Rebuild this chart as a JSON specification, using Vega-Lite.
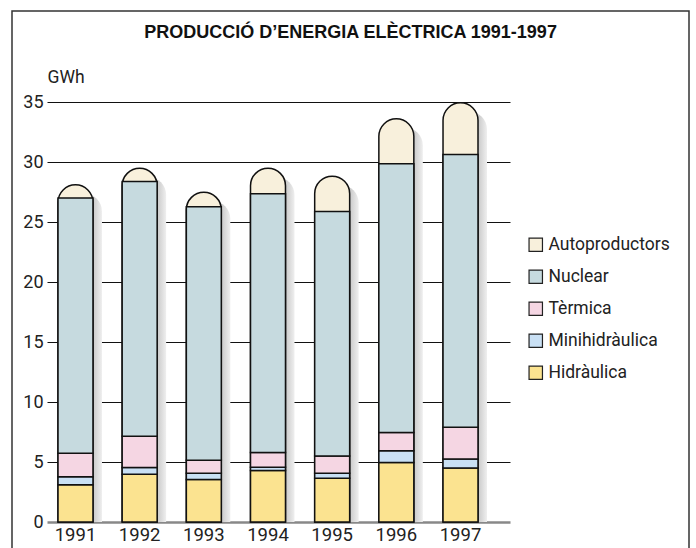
{
  "$schema": "https://vega.github.io/schema/vega-lite/v6.json",
  "width": 677,
  "height": 560,
  "padding": {"left": 12, "top": 11, "right": 7, "bottom": 0},
  "autosize": {"type": "pad"},
  "background": "white",
  "config": {"view": {"stroke": "#333", "strokeWidth": 1.5}, "font": "Liberation Sans"},
  "title": {"text": "PRODUCCIÓ D’ENERGIA ELÈCTRICA 1991-1997", "font": "Liberation Sans", "fontSize": 18, "fontWeight": "bold", "anchor": "middle", "frame": "group", "offset": -45, "baseline": "alphabetic", "color": "#111"},
  "data": {"values": [
    {"year": "1991", "type": "Hidràulica", "value": 3.10},
    {"year": "1991", "type": "Minihidràulica", "value": 0.67},
    {"year": "1991", "type": "Tèrmica", "value": 1.96},
    {"year": "1991", "type": "Nuclear", "value": 21.27},
    {"year": "1991", "type": "Autoproductors", "value": 1.10},
    {"year": "1992", "type": "Hidràulica", "value": 3.98},
    {"year": "1992", "type": "Minihidràulica", "value": 0.56},
    {"year": "1992", "type": "Tèrmica", "value": 2.61},
    {"year": "1992", "type": "Nuclear", "value": 21.22},
    {"year": "1992", "type": "Autoproductors", "value": 1.11},
    {"year": "1993", "type": "Hidràulica", "value": 3.54},
    {"year": "1993", "type": "Minihidràulica", "value": 0.53},
    {"year": "1993", "type": "Tèrmica", "value": 1.08},
    {"year": "1993", "type": "Nuclear", "value": 21.12},
    {"year": "1993", "type": "Autoproductors", "value": 1.21},
    {"year": "1994", "type": "Hidràulica", "value": 4.29},
    {"year": "1994", "type": "Minihidràulica", "value": 0.28},
    {"year": "1994", "type": "Tèrmica", "value": 1.22},
    {"year": "1994", "type": "Nuclear", "value": 21.56},
    {"year": "1994", "type": "Autoproductors", "value": 2.13},
    {"year": "1995", "type": "Hidràulica", "value": 3.65},
    {"year": "1995", "type": "Minihidràulica", "value": 0.42},
    {"year": "1995", "type": "Tèrmica", "value": 1.44},
    {"year": "1995", "type": "Nuclear", "value": 20.36},
    {"year": "1995", "type": "Autoproductors", "value": 2.95},
    {"year": "1996", "type": "Hidràulica", "value": 4.96},
    {"year": "1996", "type": "Minihidràulica", "value": 0.97},
    {"year": "1996", "type": "Tèrmica", "value": 1.53},
    {"year": "1996", "type": "Nuclear", "value": 22.39},
    {"year": "1996", "type": "Autoproductors", "value": 3.75},
    {"year": "1997", "type": "Hidràulica", "value": 4.51},
    {"year": "1997", "type": "Minihidràulica", "value": 0.75},
    {"year": "1997", "type": "Tèrmica", "value": 2.64},
    {"year": "1997", "type": "Nuclear", "value": 22.73},
    {"year": "1997", "type": "Autoproductors", "value": 4.30}
  ]},
  "transform": [
    {"joinaggregate": [{"op": "sum", "field": "value", "as": "total"}], "groupby": ["year"]},
    {"calculate": "indexof(['Hidràulica','Minihidràulica','Tèrmica','Nuclear','Autoproductors'], datum.type)", "as": "ord"}
  ],
  "encoding": {
    "x": {"field": "year", "type": "ordinal",
      "scale": {"range": [46, 466], "paddingInner": 0.455, "paddingOuter": 0},
      "axis": {"orient": "bottom", "offset": -49, "domain": false, "ticks": false, "labelFontSize": 18.5, "labelFont": "Roboto", "labelPadding": 3, "labelAngle": 0, "title": null, "labelColor": "#222"}}
  },
  "layer": [
    {
      "transform": [{"filter": "datum.type === 'Autoproductors'"}],
      "mark": {"type": "bar", "xOffset": 9, "yOffset": 9, "y2Offset": 0, "cornerRadiusTopLeft": 17.5, "cornerRadiusTopRight": 17.5,
        "color": {"gradient": "linear", "x1": 0, "x2": 1, "y1": 0, "y2": 0, "stops": [{"offset": 0, "color": "#c4c4c4"}, {"offset": 0.72, "color": "#c6c6c6"}, {"offset": 1, "color": "#efefef"}]}},
      "encoding": {
        "y": {"field": "total", "type": "quantitative",
          "scale": {"domain": [0, 35], "range": [511, 91], "nice": false, "zero": true},
          "axis": {"orient": "left", "offset": -35, "values": [0, 5, 10, 15, 20, 25, 30, 35], "domain": false, "grid": false, "tickSize": -463,
            "tickColor": {"condition": {"test": "datum.value === 0", "value": "#888"}, "value": "#111"},
            "tickWidth": {"condition": {"test": "datum.value === 0", "value": 2.5}, "value": 1},
            "labelFontSize": 18, "labelFont": "Roboto", "labelColor": "#222", "labelPadding": 467,
            "title": "GWh", "titleAngle": 0, "titleX": 0, "titleY": 71, "titleAlign": "left", "titleBaseline": "alphabetic", "titleFontSize": 17.5, "titleFont": "Roboto", "titleFontWeight": "normal", "titleColor": "#222"}},
        "y2": {"datum": 0}
      }
    },
    {
      "transform": [{"filter": "datum.type === 'Autoproductors'"}],
      "mark": {"type": "bar", "stroke": "#111", "strokeWidth": 1.5, "cornerRadiusTopLeft": 17.5, "cornerRadiusTopRight": 17.5},
      "encoding": {
        "y": {"field": "total", "type": "quantitative",
          "scale": {"domain": [0, 35], "range": [511, 91], "nice": false, "zero": true},
          "axis": {"orient": "left", "offset": -35, "values": [0, 5, 10, 15, 20, 25, 30, 35], "domain": false, "grid": false, "tickSize": -463,
            "tickColor": {"condition": {"test": "datum.value === 0", "value": "#888"}, "value": "#111"},
            "tickWidth": {"condition": {"test": "datum.value === 0", "value": 2.5}, "value": 1},
            "labelFontSize": 18, "labelFont": "Roboto", "labelColor": "#222", "labelPadding": 467,
            "title": "GWh", "titleAngle": 0, "titleX": 0, "titleY": 71, "titleAlign": "left", "titleBaseline": "alphabetic", "titleFontSize": 17.5, "titleFont": "Roboto", "titleFontWeight": "normal", "titleColor": "#222"}},
        "y2": {"datum": 0},
        "color": {"field": "type", "type": "nominal",
          "scale": {"domain": ["Autoproductors", "Nuclear", "Tèrmica", "Minihidràulica", "Hidràulica"], "range": ["#f8f0dc", "#c6dadf", "#f5d6e3", "#c9e0f4", "#fbe390"]},
          "legend": {"orient": "none", "legendX": 515, "legendY": 225, "padding": 0, "symbolType": "square", "symbolSize": 180, "symbolStrokeColor": "#222", "symbolStrokeWidth": 1.2, "labelFontSize": 17.5, "labelFont": "Roboto", "labelColor": "#222", "rowPadding": 13, "title": null, "labelOffset": 4}}
      }
    },
    {
      "transform": [{"filter": "datum.type !== 'Autoproductors'"}],
      "mark": {"type": "bar", "stroke": "#111", "strokeWidth": 1.5},
      "encoding": {
        "y": {"field": "value", "type": "quantitative", "stack": "zero",
          "scale": {"domain": [0, 35], "range": [511, 91], "nice": false, "zero": true},
          "axis": {"orient": "left", "offset": -35, "values": [0, 5, 10, 15, 20, 25, 30, 35], "domain": false, "grid": false, "tickSize": -463,
            "tickColor": {"condition": {"test": "datum.value === 0", "value": "#888"}, "value": "#111"},
            "tickWidth": {"condition": {"test": "datum.value === 0", "value": 2.5}, "value": 1},
            "labelFontSize": 18, "labelFont": "Roboto", "labelColor": "#222", "labelPadding": 467,
            "title": "GWh", "titleAngle": 0, "titleX": 0, "titleY": 71, "titleAlign": "left", "titleBaseline": "alphabetic", "titleFontSize": 17.5, "titleFont": "Roboto", "titleFontWeight": "normal", "titleColor": "#222"}},
        "order": {"field": "ord", "type": "quantitative"},
        "color": {"field": "type", "type": "nominal",
          "scale": {"domain": ["Autoproductors", "Nuclear", "Tèrmica", "Minihidràulica", "Hidràulica"], "range": ["#f8f0dc", "#c6dadf", "#f5d6e3", "#c9e0f4", "#fbe390"]},
          "legend": {"orient": "none", "legendX": 515, "legendY": 225, "padding": 0, "symbolType": "square", "symbolSize": 180, "symbolStrokeColor": "#222", "symbolStrokeWidth": 1.2, "labelFontSize": 17.5, "labelFont": "Roboto", "labelColor": "#222", "rowPadding": 13, "title": null, "labelOffset": 4}}
      }
    }
  ]
}
